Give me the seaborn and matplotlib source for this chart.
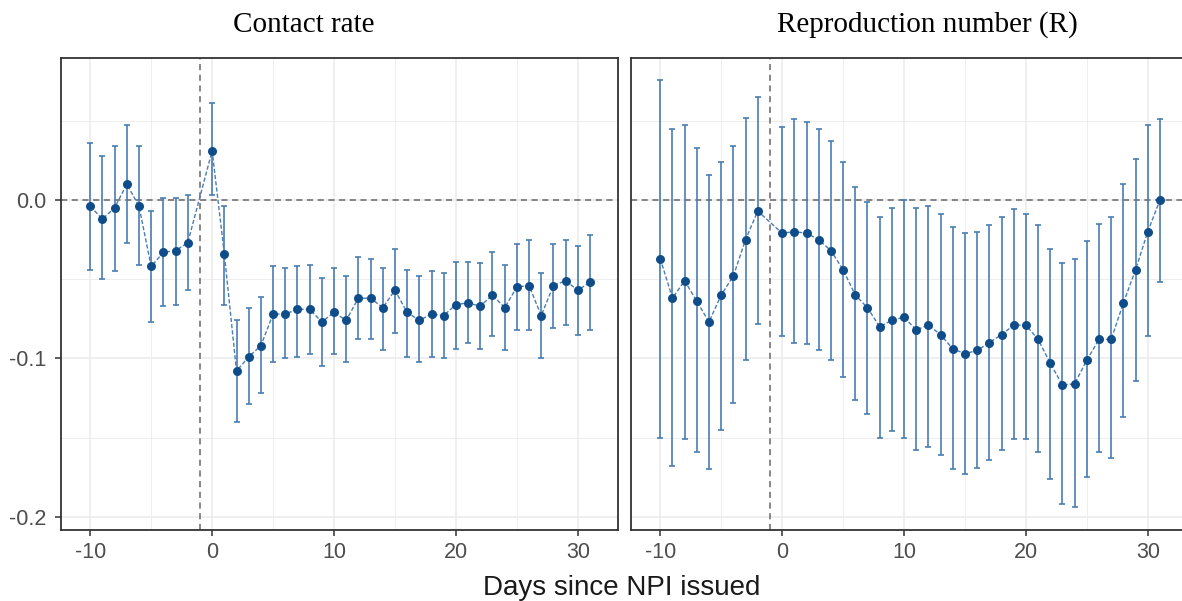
import numpy as np
import pandas as pd
import matplotlib
matplotlib.use("Agg")
import matplotlib.pyplot as plt
import seaborn as sns

days = [-10, -9, -8, -7, -6, -5, -4, -3, -2] + list(range(0, 32))

contact_est = [-0.004, -0.012, -0.005, 0.010, -0.004, -0.042, -0.033, -0.032, -0.027,
               0.031, -0.034, -0.108, -0.099, -0.092, -0.072, -0.072, -0.069, -0.069,
               -0.077, -0.071, -0.076, -0.062, -0.062, -0.068, -0.057, -0.071, -0.076,
               -0.072, -0.073, -0.066, -0.065, -0.067, -0.060, -0.068, -0.055, -0.054,
               -0.073, -0.054, -0.051, -0.057, -0.052]
contact_hi = [0.036, 0.028, 0.034, 0.047, 0.034, -0.007, 0.001, 0.001, 0.003,
              0.061, -0.004, -0.076, -0.068, -0.061, -0.042, -0.043, -0.042, -0.041,
              -0.049, -0.043, -0.048, -0.036, -0.037, -0.043, -0.031, -0.044, -0.048,
              -0.045, -0.046, -0.039, -0.039, -0.040, -0.033, -0.041, -0.028, -0.025,
              -0.046, -0.028, -0.025, -0.029, -0.022]
contact_lo = [-0.044, -0.050, -0.045, -0.027, -0.041, -0.077, -0.067, -0.066, -0.057,
              0.003, -0.066, -0.140, -0.129, -0.122, -0.102, -0.100, -0.099, -0.097,
              -0.105, -0.097, -0.102, -0.088, -0.088, -0.095, -0.084, -0.099, -0.102,
              -0.099, -0.100, -0.094, -0.090, -0.094, -0.086, -0.095, -0.082, -0.082,
              -0.100, -0.081, -0.079, -0.085, -0.082]

r_est = [-0.037, -0.062, -0.051, -0.064, -0.077, -0.060, -0.048, -0.025, -0.007,
         -0.021, -0.020, -0.021, -0.025, -0.032, -0.044, -0.060, -0.068, -0.080,
         -0.076, -0.074, -0.082, -0.079, -0.085, -0.094, -0.097, -0.095, -0.090,
         -0.085, -0.079, -0.079, -0.088, -0.103, -0.117, -0.116, -0.101, -0.088,
         -0.088, -0.065, -0.044, -0.020, 0.000]
r_hi = [0.076, 0.045, 0.047, 0.033, 0.016, 0.024, 0.034, 0.052, 0.065,
        0.046, 0.051, 0.049, 0.045, 0.037, 0.024, 0.008, -0.001, -0.011,
        -0.005, 0.000, -0.005, -0.004, -0.009, -0.017, -0.021, -0.020, -0.016,
        -0.011, -0.006, -0.009, -0.016, -0.031, -0.040, -0.037, -0.026, -0.015,
        -0.011, 0.010, 0.026, 0.047, 0.051]
r_lo = [-0.150, -0.168, -0.151, -0.159, -0.170, -0.145, -0.128, -0.101, -0.078,
        -0.086, -0.090, -0.091, -0.095, -0.101, -0.112, -0.126, -0.135, -0.150,
        -0.146, -0.150, -0.158, -0.156, -0.161, -0.170, -0.173, -0.169, -0.164,
        -0.158, -0.151, -0.151, -0.159, -0.176, -0.192, -0.194, -0.175, -0.159,
        -0.163, -0.137, -0.114, -0.086, -0.052]

panel_titles = ["Contact rate", "Reproduction number (R)"]
x_ticks = [-10, 0, 10, 20, 30]
y_ticks = [-0.2, -0.1, 0.0]
y_tick_labels = ["-0.2", "-0.1", "0.0"]
x_label = "Days since NPI issued"

sns.set_theme(style="white")
plt.rcParams["font.family"] = ["Liberation Sans", "DejaVu Sans"]

fig = plt.figure(figsize=(11.82, 6.01), dpi=100)
W, H = 1182, 601
ax1 = fig.add_axes([61 / W, 1 - 529.5 / H, (618 - 61) / W, (529.5 - 58) / H])
ax2 = fig.add_axes([631 / W, 1 - 529.5 / H, (618 - 61) / W, (529.5 - 58) / H])

point_col = "#0f4c8a"
bar_col = "#4a7db3"
grid_col = "#ebebeb"
border_col = "#333333"

series = [(contact_est, contact_lo, contact_hi), (r_est, r_lo, r_hi)]
title_x = [304, 927]
for i, (ax, (est, lo, hi)) in enumerate(zip([ax1, ax2], series)):
    df = pd.DataFrame({"day": days, "est": est, "lo": lo, "hi": hi})
    # grid
    for v in x_ticks:
        ax.axvline(v, color=grid_col, lw=1.1, zorder=0)
    for v in [-15, -5, 5, 15, 25, 35]:
        ax.axvline(v, color=grid_col, lw=0.6, zorder=0)
    for v in y_ticks:
        ax.axhline(v, color=grid_col, lw=1.1, zorder=0)
    for v in [-0.15, -0.05, 0.05]:
        ax.axhline(v, color=grid_col, lw=0.6, zorder=0)
    ax.axhline(0, color="#666666", lw=1.1, ls=(0, (4, 3)), zorder=1)
    ax.axvline(-1, color="#666666", lw=1.1, ls=(0, (4, 3)), zorder=1)
    ax.errorbar(df["day"], df["est"],
                yerr=[df["est"] - df["lo"], df["hi"] - df["est"]],
                fmt="none", ecolor=bar_col, elinewidth=1.2, capsize=2.3,
                capthick=1.2, zorder=2)
    sns.lineplot(data=df, x="day", y="est", ax=ax, color=bar_col, lw=1.0,
                 linestyle=(0, (3, 1.5)), zorder=3)
    sns.scatterplot(data=df, x="day", y="est", ax=ax, color=point_col, s=42,
                    edgecolor=point_col, linewidth=0, zorder=4)
    ax.set_xlim(-12.4, 33.3)
    ax.set_ylim(-0.208, 0.0896)
    ax.set_xticks(x_ticks)
    ax.set_xticklabels([str(v) for v in x_ticks])
    ax.set_yticks(y_ticks)
    ax.set_xlabel("")
    ax.set_ylabel("")
    ax.grid(False)
    for s in ax.spines.values():
        s.set_color(border_col)
        s.set_linewidth(1.3)
    ax.tick_params(axis="both", which="both", direction="out", length=4.3,
                   width=1.1, color=border_col, labelcolor="#4d4d4d",
                   labelsize=15.5, bottom=True, left=(i == 0))
    ax.tick_params(axis="x", pad=4.5)
    ax.tick_params(axis="y", pad=6)
    if i == 0:
        ax.set_yticklabels(y_tick_labels)
    else:
        ax.set_yticklabels([])
    fig.text(title_x[i] / W, 1 - 32 / H, panel_titles[i], ha="center",
             va="baseline", fontsize=21, family=["Liberation Serif"],
             color="black")

fig.text(621.5 / W, 1 - 595 / H, x_label, ha="center", va="baseline",
         fontsize=20, color="#1a1a1a")

fig.savefig("out.png", dpi=100)
